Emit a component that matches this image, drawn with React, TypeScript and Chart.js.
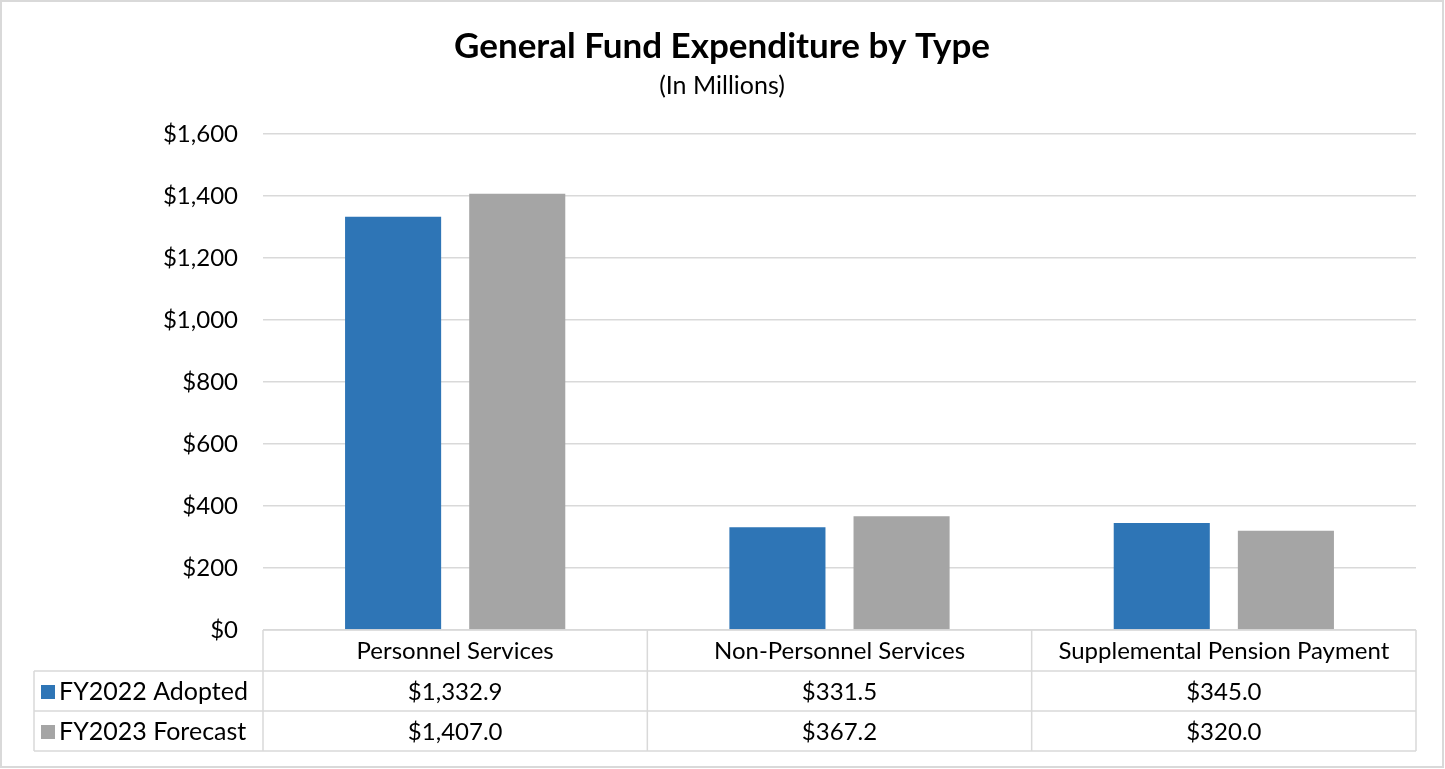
import React, { useEffect, useRef } from "react";
import { Chart, registerables } from "chart.js";

Chart.register(...registerables);

const categories = ["Personnel Services", "Non-Personnel Services", "Supplemental Pension Payment"];
const seriesNames = ["FY2022 Adopted", "FY2023 Forecast"];
const adopted = [1332.9, 331.5, 345.0];
const forecast = [1407.0, 367.2, 320.0];
const seriesColors = ["#2E75B6", "#A5A5A5"];
const yMin = 0;
const yMax = 1600;
const yStep = 200;
const titleText = "General Fund Expenditure by Type";
const subtitleText = "(In Millions)";

const FONT = "Lato, 'Open Sans', sans-serif";
const GRID = "#d9d9d9";

const fmtTick = (v: number) => "$" + v.toLocaleString("en-US");
const fmtVal = (v: number) =>
  "$" + v.toLocaleString("en-US", { minimumFractionDigits: 1, maximumFractionDigits: 1 });

const decorPlugin = {
  id: "decor",
  beforeDraw(chart: any) {
    const ctx = chart.ctx;
    ctx.save();
    ctx.fillStyle = "#ffffff";
    ctx.fillRect(0, 0, chart.width, chart.height);
    ctx.restore();
  },
  afterDraw(chart: any) {
    const ctx = chart.ctx;
    const area = chart.chartArea;
    const xs = chart.scales.x;
    ctx.save();
    // outer border
    ctx.strokeStyle = GRID;
    ctx.lineWidth = 2;
    ctx.strokeRect(1, 1, chart.width - 3, chart.height - 3);

    // title
    ctx.fillStyle = "#000000";
    ctx.textAlign = "center";
    ctx.textBaseline = "middle";
    ctx.font = `bold 35px ${FONT}`;
    ctx.fillText(titleText, 722, 47);
    ctx.font = `25px ${FONT}`;
    ctx.fillText(subtitleText, 722, 86);

    // data table
    const n = categories.length;
    const catW = (area.right - area.left) / n;
    const top = area.bottom;
    const headerH = 41;
    const rowH = 40;
    const legendLeft = 34;
    const rowsTop = top + headerH;
    const bottom = rowsTop + rowH * seriesNames.length;

    ctx.strokeStyle = GRID;
    ctx.lineWidth = 1.5;
    ctx.beginPath();
    ctx.moveTo(area.left, top);
    ctx.lineTo(area.right, top);
    for (let r = 0; r <= seriesNames.length; r++) {
      const y = rowsTop + r * rowH;
      ctx.moveTo(legendLeft, y);
      ctx.lineTo(area.right, y);
    }
    ctx.moveTo(legendLeft, rowsTop);
    ctx.lineTo(legendLeft, bottom);
    for (let i = 0; i <= n; i++) {
      const x = area.left + i * catW;
      ctx.moveTo(x, top);
      ctx.lineTo(x, bottom);
    }
    ctx.stroke();

    ctx.fillStyle = "#000000";
    ctx.font = `24px ${FONT}`;
    ctx.textAlign = "center";
    ctx.textBaseline = "middle";
    for (let i = 0; i < n; i++) {
      const cx = xs.getPixelForValue(i);
      ctx.fillText(categories[i], cx, top + headerH / 2 + 1);
    }
    const seriesVals = [adopted, forecast];
    for (let s = 0; s < seriesNames.length; s++) {
      const cy = rowsTop + s * rowH + rowH / 2 + 1;
      ctx.fillStyle = seriesColors[s];
      ctx.fillRect(41, cy - 7, 14, 14);
      ctx.fillStyle = "#000000";
      ctx.textAlign = "left";
      ctx.font = `25px ${FONT}`;
      ctx.fillText(seriesNames[s], 59, cy);
      ctx.textAlign = "center";
      ctx.font = `24px ${FONT}`;
      for (let i = 0; i < n; i++) {
        ctx.fillText(fmtVal(seriesVals[s][i]), xs.getPixelForValue(i), cy);
      }
    }
    ctx.restore();
  },
};

export default function App() {
  const ref = useRef<HTMLCanvasElement | null>(null);
  useEffect(() => {
    if (!ref.current) return;
    const chart = new Chart(ref.current, {
      type: "bar",
      data: {
        labels: categories,
        datasets: [
          {
            label: seriesNames[0],
            data: adopted,
            backgroundColor: seriesColors[0],
            categoryPercentage: 0.646,
            barPercentage: 0.774,
          },
          {
            label: seriesNames[1],
            data: forecast,
            backgroundColor: seriesColors[1],
            categoryPercentage: 0.646,
            barPercentage: 0.774,
          },
        ],
      },
      options: {
        responsive: false,
        animation: false,
        devicePixelRatio: 1,
        layout: { padding: { left: 0, right: 29, top: 134, bottom: 139 } },
        plugins: {
          legend: { display: false },
          title: { display: false },
          tooltip: { enabled: false },
        },
        scales: {
          x: { display: false },
          y: {
            min: yMin,
            max: yMax,
            ticks: {
              stepSize: yStep,
              padding: 25,
              color: "#000000",
              font: { family: FONT, size: 24 },
              callback: (v: any) => fmtTick(Number(v)),
            },
            grid: { color: GRID, lineWidth: 1.5, drawTicks: false },
            border: { display: false },
            afterFit: (scale: any) => {
              scale.width = 263;
            },
          },
        },
      },
      plugins: [decorPlugin],
    });
    return () => chart.destroy();
  }, []);
  return (
    <div style={{ position: "fixed", left: 0, top: 0, width: 1445, height: 769 }}>
      <canvas ref={ref} width={1445} height={769} style={{ display: "block" }} />
    </div>
  );
}
